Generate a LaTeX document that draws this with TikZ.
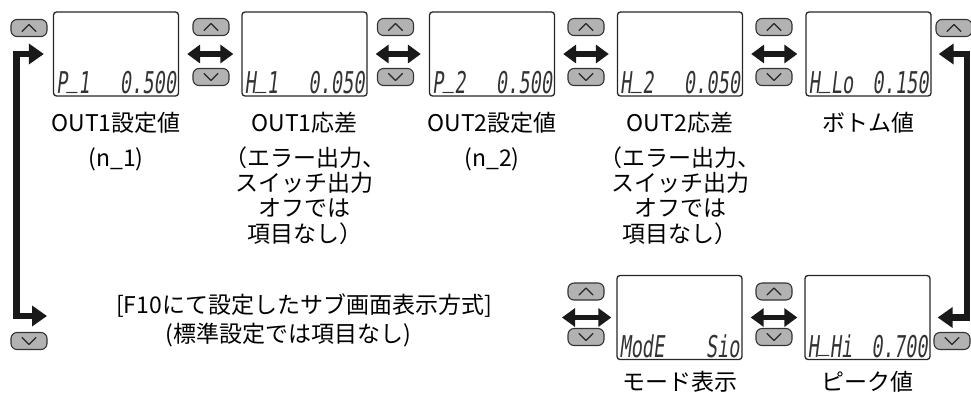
\documentclass[tikz,border=0pt]{standalone}
\usepackage{fontspec}
\setmainfont{Noto Sans CJK JP}
\newfontfamily\lcdfont{DejaVu Sans Mono}[FakeSlant=0.12,FakeStretch=0.62]
\newcommand\lcdus{\raisebox{0.24em}{\_}}
\usetikzlibrary{arrows.meta}
\begin{document}
\begin{tikzpicture}[x=1pt,y=-1pt,
  lcdbox/.style={draw=black!85,line width=1.3pt,rounded corners=3pt,minimum width=125pt,minimum height=84pt,inner sep=0pt},
  btnbase/.style={draw=black!80,fill=black!30,line width=1.1pt,rounded corners=6pt,minimum width=36pt,minimum height=17pt,inner sep=0pt},
  btnup/.style={btnbase,path picture={\draw[sharp corners,line width=1.1pt,black!85,line cap=round,line join=round]
     ([xshift=-7pt,yshift=-3.5pt]path picture bounding box.center) -- ++(7pt,7pt) -- ++(7pt,-7pt);}},
  btndown/.style={btnbase,path picture={\draw[sharp corners,line width=1.1pt,black!85,line cap=round,line join=round]
     ([xshift=-7pt,yshift=3.5pt]path picture bounding box.center) -- ++(7pt,-7pt) -- ++(7pt,7pt);}},
  dblarrow/.style={draw=black!90,line width=5.5pt,{Triangle[length=13pt,width=18pt]}-{Triangle[length=13pt,width=18pt]}},
  loopline/.style={draw=black!90,line width=6.5pt,line join=miter,{Triangle[length=15pt,width=20pt]}-{Triangle[length=15pt,width=20pt]}},
  lbl/.style={font=\fontsize{23}{25}\selectfont,inner sep=0pt,anchor=base},
  lcdl/.style={font=\lcdfont\fontsize{30}{30}\selectfont,inner sep=0pt,text=black!80,anchor=base west},
  lcdr/.style={font=\lcdfont\fontsize{30}{30}\selectfont,inner sep=0pt,text=black!80,anchor=base east}
]
\useasboundingbox (0,0) rectangle (971,392);

% LCD boxes
\node[lcdbox] (b1) at (116,54) {};
\node[lcdbox] (b2) at (304.5,54) {};
\node[lcdbox] (b3) at (492,54) {};
\node[lcdbox] (b4) at (680,54) {};
\node[lcdbox] (b5) at (868.5,54) {};
\node[lcdbox] (md) at (679.5,317.5) {};
\node[lcdbox] (pk) at (867.5,317.5) {};

% LCD texts
\node[lcdl] (b1l) at ([xshift=3pt,yshift=3pt]b1.south west) {P\lcdus1};
\node[lcdr] (b1r) at ([xshift=-3pt,yshift=3pt]b1.south east) {0.500};
\node[lcdl] (b2l) at ([xshift=3pt,yshift=3pt]b2.south west) {H\lcdus1};
\node[lcdr] (b2r) at ([xshift=-3pt,yshift=3pt]b2.south east) {0.050};
\node[lcdl] (b3l) at ([xshift=3pt,yshift=3pt]b3.south west) {P\lcdus2};
\node[lcdr] (b3r) at ([xshift=-3pt,yshift=3pt]b3.south east) {0.500};
\node[lcdl] (b4l) at ([xshift=3pt,yshift=3pt]b4.south west) {H\lcdus2};
\node[lcdr] (b4r) at ([xshift=-3pt,yshift=3pt]b4.south east) {0.050};
\node[lcdl] (b5l) at ([xshift=3pt,yshift=3pt]b5.south west) {H\lcdus Lo};
\node[lcdr] (b5r) at ([xshift=-3pt,yshift=3pt]b5.south east) {0.150};
\node[lcdl] (mdl) at ([xshift=3pt,yshift=3pt]md.south west) {ModE};
\node[lcdr] (mdr) at ([xshift=-3pt,yshift=3pt]md.south east) {Sio};
\node[lcdl] (pkl) at ([xshift=3pt,yshift=3pt]pk.south west) {H\lcdus Hi};
\node[lcdr] (pkr) at ([xshift=-3pt,yshift=3pt]pk.south east) {0.700};

% buttons
\node[btnup] (uL) at (29,28) {};
\node[btnup] (u12) at (211,27) {};
\node[btndown] (d12) at (211,77) {};
\node[btnup] (u23) at (395.5,27) {};
\node[btndown] (d23) at (395.5,77) {};
\node[btnup] (u34) at (586,27) {};
\node[btndown] (d34) at (586,77) {};
\node[btnup] (u45) at (774,27) {};
\node[btndown] (d45) at (774,77) {};
\node[btnup] (uR) at (954,28) {};
\node[btndown] (dL) at (29,341) {};
\node[btnup] (usm) at (586,291.5) {};
\node[btndown] (dsm) at (586,337) {};
\node[btnup] (ump) at (774,291.5) {};
\node[btndown] (dmp) at (774,337) {};
\node[btndown] (dR) at (952,341) {};

% double arrows
\draw[dblarrow,shorten <=8pt,shorten >=8pt] (b1.east) -- (b2.west);
\draw[dblarrow,shorten <=8pt,shorten >=8pt] (b2.east) -- (b3.west);
\draw[dblarrow,shorten <=8pt,shorten >=8pt] (b3.east) -- (b4.west);
\draw[dblarrow,shorten <=8pt,shorten >=8pt] (b4.east) -- (b5.west);
\coordinate (subR) at (562,317.5);
\draw[dblarrow,shorten >=5pt] (subR) -- (md.west);
\draw[dblarrow,shorten <=8pt,shorten >=7pt] (md.east) -- (pk.west);

% loops
\coordinate (subL) at (47,316);
\draw[loopline,shorten >=9pt] (subL) -- (16.5,316) |- (b1.west);
\draw[loopline,shorten <=7pt,shorten >=7pt] (b5.east) -- ++(35.5,0) |- (pk.east);

% labels top row
\node[lbl] (t1) at (116,131) {OUT1設定値};
\node[lbl] (t1a) at (116,166) {(n\_1)};
\node[lbl] (t2) at (304.5,131) {OUT1応差};
\node[lbl] (t2a) at (304.5,166) {（エラー出力、};
\node[lbl] (t2b) at (304.5,191) {スイッチ出力};
\node[lbl] (t2c) at (304.5,216) {オフでは};
\node[lbl] (t2d) at (304.5,242) {項目なし）};
\node[lbl] (t3) at (492,131) {OUT2設定値};
\node[lbl] (t3a) at (492,166) {(n\_2)};
\node[lbl] (t4) at (680,131) {OUT2応差};
\node[lbl] (t4a) at (680,166) {（エラー出力、};
\node[lbl] (t4b) at (680,191) {スイッチ出力};
\node[lbl] (t4c) at (680,216) {オフでは};
\node[lbl] (t4d) at (680,242) {項目なし）};
\node[lbl] (t5) at (868.5,131) {ボトム値};

% bottom labels
\node[lbl] (sub1) at (304,313) {[F10にて設定したサブ画面表示方式]};
\node[lbl] (sub2) at (288,342) {(標準設定では項目なし)};
\node[lbl] (tmd) at (679.5,390) {モード表示};
\node[lbl] (tpk) at (867.5,390) {ピーク値};
\end{tikzpicture}
\end{document}
